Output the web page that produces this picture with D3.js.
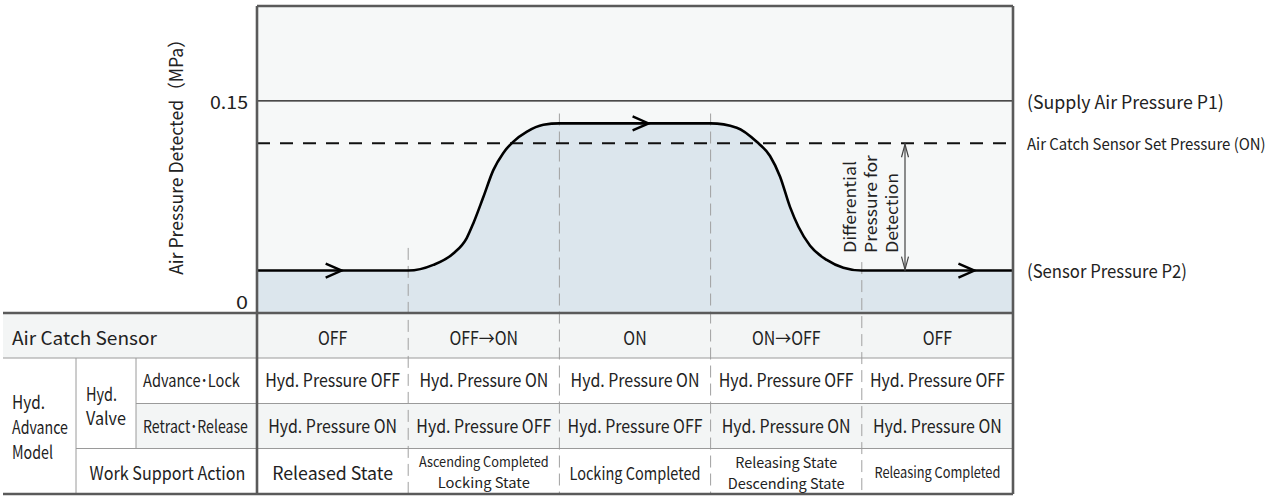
<!DOCTYPE html>
<html>
<head>
<meta charset="utf-8">
<script src="https://cdn.jsdelivr.net/npm/d3@7"></script>
<style>
  html, body { margin: 0; padding: 0; background: #ffffff; }
  svg { display: block; }
  text { font-family: "Noto Sans CJK JP", "Noto Sans", "Open Sans", sans-serif; fill: #222; }
</style>
</head>
<body>
<svg id="chart" width="1277" height="496"></svg>
<script>
// ---- data ----
const phases = [0, 1, 2, 3, 4, 5];                 // phase boundaries on the time axis
const pressureT = [0, 1.0, 1.166, 1.298, 1.387, 1.431, 1.497, 1.563, 1.628, 1.694, 1.783, 1.894, 2.0,
                   3.0, 3.173, 3.305, 3.393, 3.459, 3.525, 3.581, 3.658, 3.768, 3.878, 4.0, 5.0];
const pressureP = [0.030, 0.030, 0.034, 0.042, 0.053, 0.0635, 0.082, 0.101, 0.113, 0.121, 0.128, 0.133, 0.134,
                   0.134, 0.131, 0.121, 0.111, 0.0965, 0.075, 0.061, 0.0475, 0.0375, 0.032, 0.030, 0.030];
const supplyP1 = 0.15;
const setPressureOn = 0.12;
const sensorP2 = 0.03;
const yMax = 0.217;
const yTicks = [0, 0.15];
const yTickLabels = ["0", "0.15"];
const dividerTops = [0.046, 0.141, 0.141, 0.036];  // pressure where each phase divider starts
const arrowT = [0.56, 2.59, 4.745];                  // flow-direction arrows along the curve

const sensorRow = ["OFF", "OFF\u2192ON", "ON", "ON\u2192OFF", "OFF"];
const advanceLockRow = ["Hyd. Pressure OFF", "Hyd. Pressure ON", "Hyd. Pressure ON", "Hyd. Pressure OFF", "Hyd. Pressure OFF"];
const retractReleaseRow = ["Hyd. Pressure ON", "Hyd. Pressure OFF", "Hyd. Pressure OFF", "Hyd. Pressure ON", "Hyd. Pressure ON"];
const workSupportRow = [["Released State"], ["Ascending Completed", "Locking State"], ["Locking Completed"],
                        ["Releasing State", "Descending State"], ["Releasing Completed"]];

// ---- layout ----
const svg = d3.select("#chart");
const plotL = 257, plotR = 1013, plotT = 6, plotB = 313;
const rows = [313, 358, 403.5, 448.5, 494];
const tableL = 3;
const colA = 76, colB = 136;

const x = d3.scaleLinear().domain([0, 5]).range([plotL, plotR]);
const y = d3.scaleLinear().domain([0, yMax]).range([plotB, plotT]);

// text helper: a label is squeezed horizontally to a given width (or by a factor)
function label(g, tx, ty, str, size, anchor, width, k, vertical) {
  const t = g.append("text").attr("font-size", size)
    .attr("text-anchor", anchor || "middle").attr("dominant-baseline", "central").text(str);
  const L = t.node().getComputedTextLength();
  const sx = width ? width / L : (k || 1);
  t.attr("transform", `translate(${tx},${ty})${vertical ? " rotate(-90)" : ""} scale(${sx},1)`);
  return t;
}
function naturalWidth(str, size) {
  const t = svg.append("text").attr("font-size", size).text(str);
  const L = t.node().getComputedTextLength();
  t.remove();
  return L;
}

// ---- plot background ----
svg.append("rect").attr("x", plotL).attr("y", plotT).attr("width", plotR - plotL).attr("height", plotB - plotT)
  .attr("fill", "#f6f8f8");

const pts = pressureT.map((t, i) => [t, pressureP[i]]);
svg.append("path").datum(pts)
  .attr("d", d3.area().x(d => x(d[0])).y0(y(0)).y1(d => y(d[1])).curve(d3.curveMonotoneX))
  .attr("fill", "#dce6ed");

// ---- table backgrounds ----
svg.append("rect").attr("x", tableL).attr("y", rows[0]).attr("width", plotR - tableL).attr("height", rows[1] - rows[0]).attr("fill", "#f3f5f5");
svg.append("rect").attr("x", colB).attr("y", rows[2]).attr("width", plotR - colB).attr("height", rows[3] - rows[2]).attr("fill", "#f3f5f5");

// ---- phase dividers ----
const gray = "#a0a0a0";
svg.append("g").selectAll("line").data(phases.slice(1, 5)).join("line")
  .attr("x1", d => x(d)).attr("x2", d => x(d))
  .attr("y1", (d, i) => y(dividerTops[i])).attr("y2", rows[4])
  .attr("stroke", gray).attr("stroke-width", 1).attr("stroke-dasharray", "12,6");

// ---- reference lines ----
svg.append("line").attr("x1", plotL).attr("x2", plotR).attr("y1", y(supplyP1)).attr("y2", y(supplyP1))
  .attr("stroke", "#111").attr("stroke-width", 1.3);
svg.append("line").attr("x1", plotL).attr("x2", plotR).attr("y1", y(setPressureOn)).attr("y2", y(setPressureOn))
  .attr("stroke", "#111").attr("stroke-width", 1.8).attr("stroke-dasharray", "13,10");

// ---- pressure curve ----
svg.append("path").datum(pts)
  .attr("d", d3.line().x(d => x(d[0])).y(d => y(d[1])).curve(d3.curveMonotoneX))
  .attr("fill", "none").attr("stroke", "#000").attr("stroke-width", 2.6);

// flow arrows (open chevrons)
const interp = t => d3.scaleLinear().domain(pressureT).range(pressureP)(t);
svg.append("g").selectAll("path").data(arrowT).join("path")
  .attr("d", d => {
    const tx = x(d), ty = y(interp(d));
    return `M${tx - 16},${ty - 7}L${tx},${ty}L${tx - 16},${ty + 7}`;
  })
  .attr("fill", "none").attr("stroke", "#000").attr("stroke-width", 2.4);

// differential pressure indicator
const dx = 905;
const y1 = y(setPressureOn), y2 = y(sensorP2);
svg.append("line").attr("x1", dx).attr("x2", dx).attr("y1", y1).attr("y2", y2).attr("stroke", "#444").attr("stroke-width", 1.2);
svg.append("path").attr("d", `M${dx - 3.5},${y1 + 14}L${dx},${y1 + 1}L${dx + 3.5},${y1 + 14}M${dx - 3.5},${y2 - 14}L${dx},${y2 - 1}L${dx + 3.5},${y2 - 14}`)
  .attr("fill", "none").attr("stroke", "#444").attr("stroke-width", 1.2);
const diffLines = ["Differential", "Pressure for", "Detection"];
const diffWidths = [92, 98, 80];
const diffG = svg.append("g");
diffLines.forEach((s, i) => label(diffG, 849 + i * 21, 253, s, 16.5, "start", diffWidths[i], null, true));

// ---- axis ----
const axisG = svg.append("g");
yTicks.forEach((v, i) => {
  label(axisG, 248, v === 0 ? 301 : y(v), yTickLabels[i], 18, "end", v === 0 ? 12 : 38);
});
label(svg, 175, 152.5, "Air Pressure Detected\uFF08MPa\uFF09", 18.5, "middle", 245, null, true);

// ---- right-side labels ----
label(svg, 1027, y(supplyP1), "(Supply Air Pressure P1)", 18, "start", 197);
label(svg, 1027, y(setPressureOn), "Air Catch Sensor Set Pressure (ON)", 16, "start", 239);
label(svg, 1027, y(sensorP2), "(Sensor Pressure P2)", 18, "start", 160);

// ---- table grid ----
const grid = svg.append("g").attr("stroke", "#9a9a9a").attr("stroke-width", 1);
grid.append("line").attr("x1", tableL).attr("x2", plotR).attr("y1", rows[1]).attr("y2", rows[1]);
grid.append("line").attr("x1", colB).attr("x2", plotR).attr("y1", rows[2]).attr("y2", rows[2]);
grid.append("line").attr("x1", colA).attr("x2", plotR).attr("y1", rows[3]).attr("y2", rows[3]);
grid.append("line").attr("x1", colA).attr("x2", colA).attr("y1", rows[1]).attr("y2", rows[4]);
grid.append("line").attr("x1", colB).attr("x2", colB).attr("y1", rows[1]).attr("y2", rows[3]);

// ---- heavy frame ----
const frame = svg.append("g").attr("stroke", "#5a5a5a").attr("stroke-width", 2.6).attr("fill", "none");
frame.append("line").attr("x1", plotL).attr("x2", plotR).attr("y1", plotT).attr("y2", plotT);
frame.append("line").attr("x1", plotL).attr("x2", plotL).attr("y1", plotT).attr("y2", rows[4]);
frame.append("line").attr("x1", plotR).attr("x2", plotR).attr("y1", plotT).attr("y2", rows[4]);
frame.append("line").attr("x1", tableL).attr("x2", plotR).attr("y1", rows[0]).attr("y2", rows[0]);
frame.append("line").attr("x1", tableL).attr("x2", plotR).attr("y1", rows[4]).attr("y2", rows[4]);

// ---- table text ----
const tg = svg.append("g");
const mid = (a, b) => (a + b) / 2;
const rowY = [337, 379.5, 425.5, 472];
label(tg, 12, rowY[0], "Air Catch Sensor", 18.5, "start", 145);
label(tg, 12, 401, "Hyd.", 18, "start", 33);
label(tg, 12, 426, "Advance", 18, "start", 56);
label(tg, 12, 451, "Model", 18, "start", 41);
label(tg, 86, 393, "Hyd.", 18, "start", 31);
label(tg, 86, 417, "Valve", 18, "start", 40);
label(tg, 143, rowY[1], "Advance\uFF65Lock", 17.5, "start", 97);
label(tg, 143, rowY[2], "Retract\uFF65Release", 17.5, "start", 105);
label(tg, mid(colA, plotL) + 1, rowY[3], "Work Support Action", 18, "middle", 156);

// cell text in the three state rows shares one squeeze factor
const cellK = 135 / naturalWidth("Hyd. Pressure OFF", 18);
sensorRow.forEach((s, i) => label(tg, x(i + 0.5), rowY[0], s, 18, "middle", null, cellK));
advanceLockRow.forEach((s, i) => label(tg, x(i + 0.5), rowY[1], s, 18, "middle", null, cellK));
retractReleaseRow.forEach((s, i) => label(tg, x(i + 0.5), rowY[2], s, 18, "middle", null, cellK));

// work support row: each phase has its own size and fitted width
const wsStyle = [
  [{ size: 18, w: 121 }],
  [{ size: 13.8, w: 130 }, { size: 13.8, w: 92 }],
  [{ size: 17.3, w: 131 }],
  [{ size: 14.6, w: 102 }, { size: 14.6, w: 117 }],
  [{ size: 15.2, w: 126 }]
];
workSupportRow.forEach((lines, i) => {
  lines.forEach((s, j) => {
    const st = wsStyle[i][j];
    const ty = lines.length === 1 ? rowY[3] : (j === 0 ? 461.5 : 482);
    label(tg, x(i + 0.5), ty, s, st.size, "middle", st.w);
  });
});
</script>
</body>
</html>
